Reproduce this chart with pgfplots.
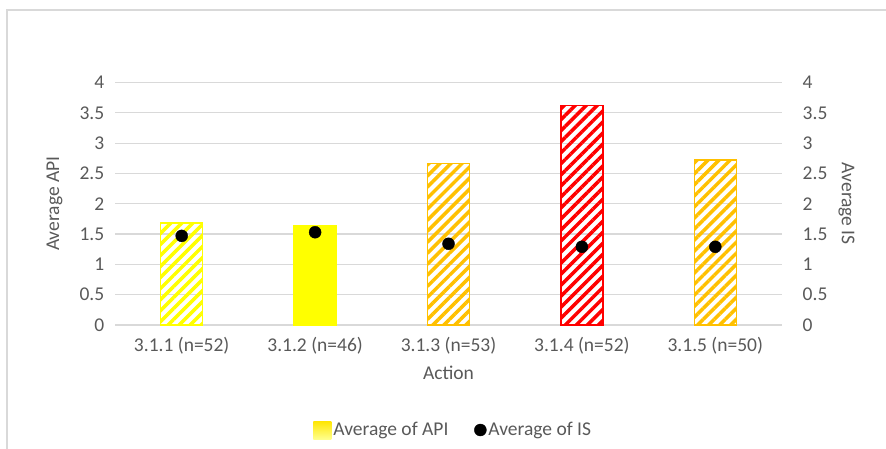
\documentclass[border=0pt]{standalone}
\usepackage{pgfplots}
\pgfplotsset{compat=1.18}
\usepackage{fontspec}
\setmainfont{Carlito}
\usetikzlibrary{patterns.meta}
\definecolor{txt}{HTML}{595959}
\definecolor{gridc}{HTML}{D9D9D9}
\definecolor{cyel}{HTML}{FFFF00}
\definecolor{corg}{HTML}{FFC000}
\definecolor{cred}{HTML}{FF0000}
\begin{document}
\fontsize{19.5}{23}\selectfont
\begin{tikzpicture}[x=1pt,y=1pt]
\useasboundingbox (0,0) rectangle (886,-449);
\draw[gridc,line width=1.2pt] (7,-449) -- (7,-10) -- (886,-10);
\begin{axis}[
  at={(115pt,-325pt)}, anchor=south west,
  scale only axis, width=667pt, height=242.5pt,
  xmin=-0.5, xmax=4.5, ymin=0, ymax=4,
  axis line style={draw=none},
  ytick={0,0.5,...,4},
  yticklabels={0,0.5,1,1.5,2,2.5,3,3.5,4},
  xtick={0,1,2,3,4},
  xticklabels={3.1.1 (n=52),3.1.2 (n=46),3.1.3 (n=53),3.1.4 (n=52),3.1.5 (n=50)},
  major tick length=0pt,
  xmajorgrids=false, ymajorgrids=true, grid style={color=gridc,line width=1.2pt},
  tick label style={font=\fontsize{19.5}{23}\selectfont,text=txt},
  yticklabel style={xshift=-4pt},
  xticklabel style={yshift=-6pt},
  /pgf/number format/assume math mode=true,
  ylabel={Average API}, ylabel style={font=\fontsize{19.5}{23}\selectfont,text=txt,yshift=4pt},
  xlabel={Action}, xlabel style={font=\fontsize{19.5}{23}\selectfont,text=txt,yshift=2pt},
  legend style={at={(0.507,-0.433)}, anchor=center, draw=none, fill=none,
    legend columns=2, font=\fontsize{19.5}{23}\selectfont, text=txt,
    /tikz/every even column/.append style={column sep=24pt}},
  legend cell align=left,
  clip=false,
]
\addlegendimage{legend image code/.code={\shade[draw=none,top color=yellow!80!orange,bottom color=yellow!45!white] (0pt,-9pt) rectangle (18pt,9pt);}}
\addlegendentry{Average of API}
\addlegendimage{only marks, mark=*, mark size=6pt, black}
\addlegendentry{Average of IS}
\addplot[ybar, bar width=42pt, draw=cyel, line width=1.5pt,
  pattern={Lines[angle=45,distance=7.8pt,line width=3.5pt]}, pattern color=cyel, forget plot]
  coordinates {(0,1.68)};
\addplot[ybar, bar width=42pt, draw=cyel, fill=cyel, line width=1.5pt, forget plot]
  coordinates {(1,1.63)};
\addplot[ybar, bar width=42pt, draw=corg, line width=1.5pt,
  pattern={Lines[angle=45,distance=7.8pt,line width=3.5pt]}, pattern color=corg, forget plot]
  coordinates {(2,2.66)};
\addplot[ybar, bar width=42pt, draw=cred, line width=1.5pt,
  pattern={Lines[angle=45,distance=7.8pt,line width=3.5pt]}, pattern color=cred, forget plot]
  coordinates {(3,3.62)};
\addplot[ybar, bar width=42pt, draw=corg, line width=1.5pt,
  pattern={Lines[angle=45,distance=7.8pt,line width=3.5pt]}, pattern color=corg, forget plot]
  coordinates {(4,2.72)};
\end{axis}
\begin{axis}[
  at={(115pt,-325pt)}, anchor=south west,
  scale only axis, width=667pt, height=242.5pt,
  xmin=-0.5, xmax=4.5, ymin=0, ymax=4,
  hide x axis,
  axis y line*=right,
  axis line style={draw=none},
  xmajorgrids=false, ymajorgrids=false,
  ytick={0,0.5,...,4},
  yticklabels={0,0.5,1,1.5,2,2.5,3,3.5,4},
  major tick length=0pt,
  tick label style={font=\fontsize{19.5}{23}\selectfont,text=txt},
  yticklabel style={xshift=14pt},
  ylabel={Average IS}, ylabel style={font=\fontsize{19.5}{23}\selectfont,text=txt,rotate=180,yshift=-2pt},
  clip=false,
]
\addplot[only marks, mark=*, mark size=6pt, black]
  coordinates {(0,1.47) (1,1.53) (2,1.34) (3,1.29) (4,1.29)};
\end{axis}
\end{tikzpicture}
\end{document}
